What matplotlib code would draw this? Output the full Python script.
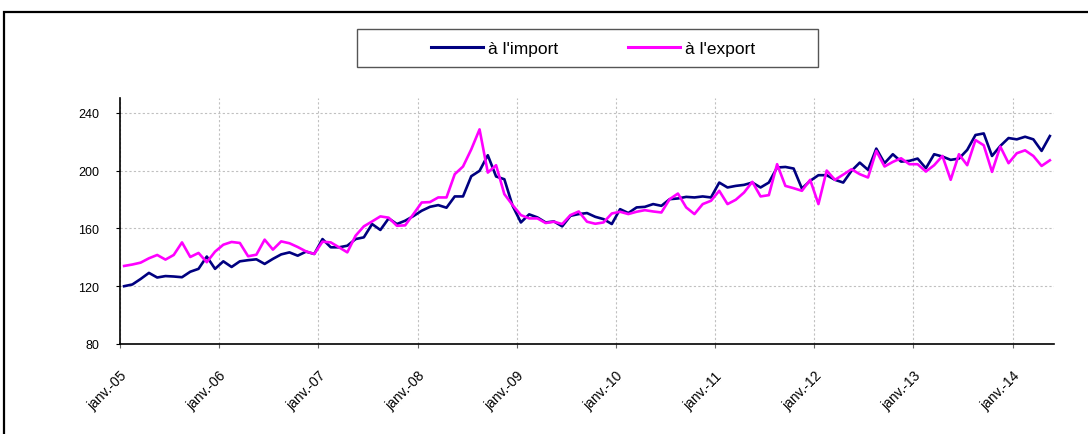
import numpy as np
import matplotlib
matplotlib.use("Agg")
import matplotlib.pyplot as plt
import matplotlib.transforms as mtransforms
from matplotlib.lines import Line2D
from matplotlib.patches import Rectangle

plt.rcParams['font.family'] = ['Liberation Sans', 'DejaVu Sans']

# monthly index values, janv.-05 .. mai-14
imports = [120, 121.2, 125, 129.2, 126, 127, 126.7, 126.2, 130, 132, 140.5, 132,
           137.2, 133.3, 137.2, 138, 138.6, 135.4, 138.9, 142, 143.4, 141.1, 143.9, 142.3,
           152.6, 146.9, 146.9, 148, 152.6, 153.8, 163, 158.9, 166.9, 163, 165.3, 168.5,
           172.2, 174.9, 176.1, 174.3, 182.1, 182.1, 196.1, 199.8, 210.6, 195.9, 194, 175.6,
           164.1, 169.7, 167.6, 164.1, 164.8, 161.4, 168.7, 169.9, 170.6, 168, 166.4, 163,
           173.3, 170.6, 174.5, 174.9, 176.8, 175.6, 180.2, 180.7, 181.8, 181.4, 182.1, 181.4,
           191.7, 188.3, 189.4, 190.1, 191.7, 188.3, 191.7, 202.1, 202.5, 201.4, 187.6, 192.9,
           196.8, 196.8, 193.6, 191.7, 199.8, 205.5, 200.5, 215.2, 205.1, 211.3, 206.2, 206.7,
           208.3, 201.6, 211.3, 209.7, 207.4, 208.3, 214.3, 224.6, 225.7, 210.1, 217, 222.5,
           221.6, 223.4, 221.6, 213.6, 223.9]
exports = [134, 135, 136.3, 139.3, 141.6, 138.4, 141.6, 150.3, 140.2, 143, 136.6, 143.9,
           148.7, 150.6, 149.9, 140.7, 141.8, 152.2, 145.3, 151, 149.7, 147.1, 144.1, 142.3,
           150.8, 150.3, 146.9, 143.4, 154.9, 161.4, 164.8, 168.3, 167.4, 161.8, 162.1, 169.9,
           177.9, 178.2, 181.4, 181.4, 197.5, 202.8, 214.7, 228.5, 198.6, 203.7, 183.7, 176.1,
           169.2, 166.9, 166.9, 163.7, 164.6, 163, 169.2, 171.7, 164.6, 163.2, 164.1, 170.3,
           171.5, 169.9, 171.5, 172.6, 171.7, 171, 180.2, 184.1, 174.5, 169.9, 176.8, 179.1,
           186, 176.8, 179.8, 184.8, 192.2, 182.1, 183, 204.4, 189.4, 187.8, 186, 193.6,
           176.8, 200, 193.6, 197.2, 200.9, 197.5, 195.2, 213.6, 202.8, 206, 208.5, 204.4,
           204.4, 199.3, 203.7, 210.1, 193.6, 211.3, 203.7, 221.1, 217.5, 199.1, 216.6, 205.1,
           212, 214, 210.1, 203.2, 207.1]
year_labels = ['janv.-05', 'janv.-06', 'janv.-07', 'janv.-08', 'janv.-09',
               'janv.-10', 'janv.-11', 'janv.-12', 'janv.-13', 'janv.-14']

n = len(imports)
x = np.arange(n) + 0.5

fig = plt.figure(figsize=(10.88, 4.35), dpi=100)
ax = fig.add_axes([120/1088, 1-345/435, (1054-120)/1088, (345-99.3)/435])

ax.plot(x, imports, color='#000080', lw=1.9, label="à l'import")
ax.plot(x, exports, color='#FF00FF', lw=1.9, label="à l'export")

ax.set_xlim(0, n)
ax.set_ylim(80, 250)
ax.set_yticks([80, 120, 160, 200, 240])
ax.set_xticks(np.arange(len(year_labels)) * 12)
ax.set_xticklabels(year_labels, rotation=45, ha='right', va='center',
                   rotation_mode='anchor')
ax.tick_params(axis='x', length=3, pad=18, labelsize=10, color='#666666')
ax.tick_params(axis='y', length=3, labelsize=9, pad=12)
shift = mtransforms.ScaledTranslation(5/100, 0, fig.dpi_scale_trans)
for lab in ax.get_xticklabels():
    lab.set_transform(lab.get_transform() + shift)
ax.grid(True, color='#c0c0c0', linestyle=(0, (2, 2)), lw=0.8)
ax.spines['top'].set_visible(False)
ax.spines['right'].set_visible(False)
for s in ['left', 'bottom']:
    ax.spines[s].set_linewidth(1.2)

# outer frame
fig.patches.append(Rectangle((4/1088, -0.1), 1.2, 1 - 13/435 + 0.1,
                             transform=fig.transFigure, fill=False,
                             lw=1.6, edgecolor='black'))
# legend box
fig.patches.append(Rectangle((357/1088, 1 - 68/435), (818-357)/1088, 38/435,
                             transform=fig.transFigure, fill=False,
                             lw=1.0, edgecolor='#555555'))
handles = [Line2D([], [], color='#000080', lw=2.2),
           Line2D([], [], color='#FF00FF', lw=2.2)]
fig.legend(handles, ["à l'import", "à l'export"], loc='center',
           bbox_to_anchor=(593/1088, 1 - 49/435), ncol=2, frameon=False,
           fontsize=12.5, handlelength=3.0, handletextpad=0.3, columnspacing=4.0)

fig.savefig('out.png', dpi=100)
